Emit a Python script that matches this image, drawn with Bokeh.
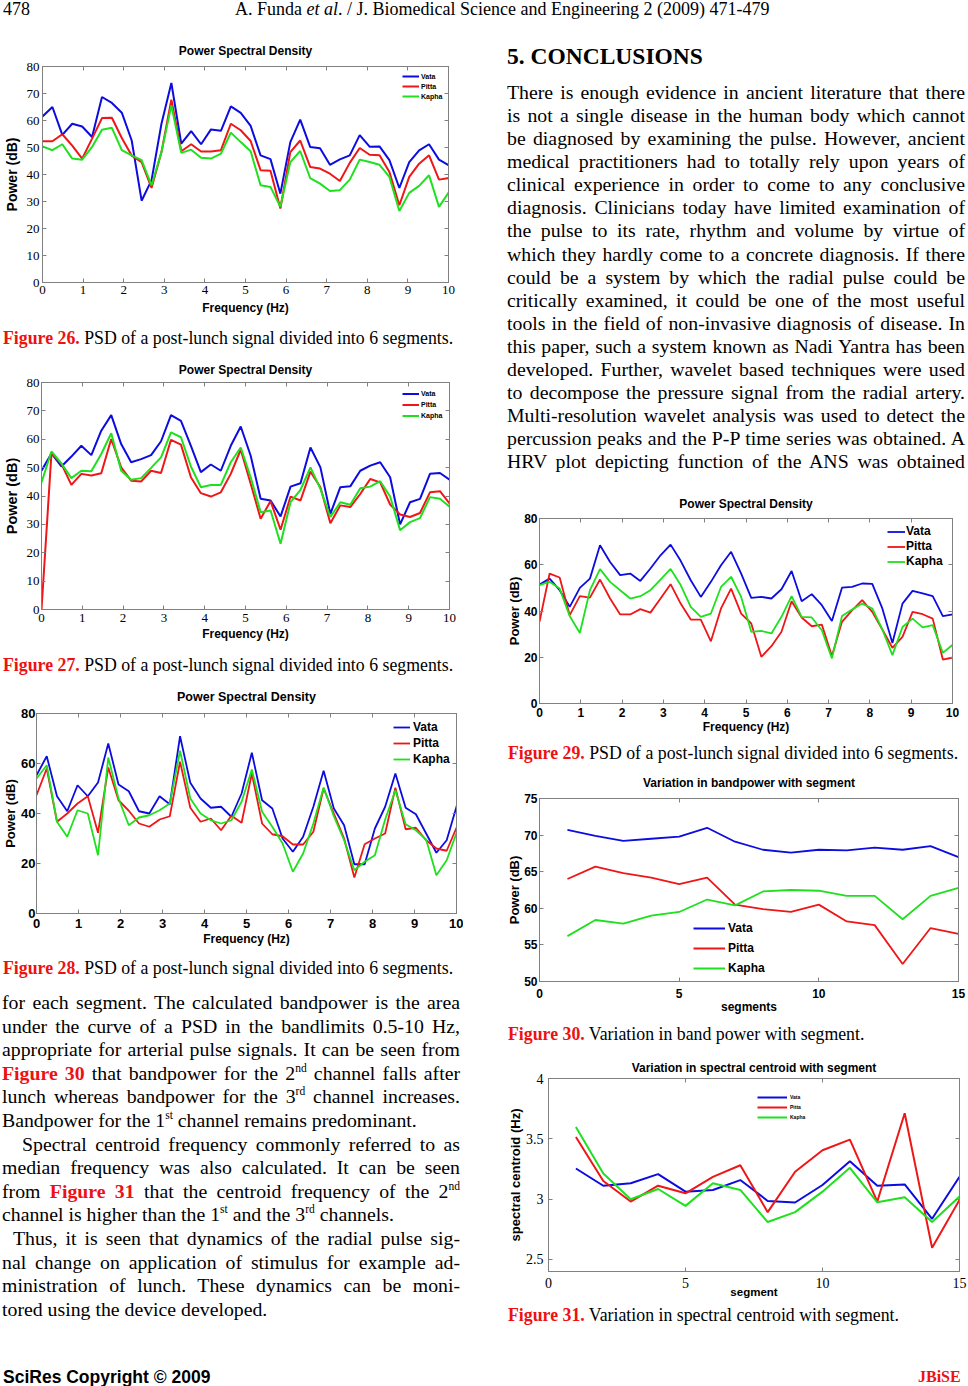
from bokeh.plotting import figure
from bokeh.models import (Div, Spacer, Column, Row, FixedTicker, LinearAxis, Legend,
                          LegendItem, Range1d, CustomJSTickFormatter)
from bokeh.embed import file_html
from bokeh.resources import INLINE

# ---------------- data ----------------
freq = [0.000, 0.244, 0.488, 0.732, 0.977, 1.221, 1.465, 1.709, 1.953, 2.197, 2.441,
        2.686, 2.930, 3.174, 3.418, 3.662, 3.906, 4.150, 4.395, 4.639, 4.883, 5.127,
        5.371, 5.615, 5.859, 6.104, 6.348, 6.592, 6.836, 7.080, 7.324, 7.568, 7.813,
        8.057, 8.301, 8.545, 8.789, 9.033, 9.277, 9.521, 9.766, 10.010]

f26_vata = [61.5, 65.0, 54.7, 58.8, 57.8, 53.9, 68.7, 66.5, 62.9, 52.6, 30.3, 37.9, 58.8, 73.9,
            51.4, 56.1, 51.2, 56.7, 56.2, 65.2, 62.8, 58.0, 47.1, 45.7, 32.9, 52.0, 60.3, 50.2,
            49.7, 43.6, 45.6, 47.1, 54.6, 50.3, 50.4, 45.3, 35.0, 44.6, 48.9, 51.2, 45.5, 43.4]
f26_pitta = [52.3, 52.3, 54.9, 50.7, 45.9, 53.3, 60.9, 61.0, 53.5, 47.0, 44.6, 35.0, 48.3, 67.7,
             48.6, 51.2, 48.5, 48.5, 49.0, 58.8, 56.4, 52.4, 41.6, 41.4, 27.4, 48.3, 52.6, 42.8,
             42.2, 40.3, 37.6, 44.3, 49.8, 47.3, 47.1, 40.9, 28.6, 39.1, 44.0, 47.1, 38.1, 38.7]
f26_kapha = [50.4, 49.0, 51.2, 45.9, 45.5, 50.2, 56.6, 57.3, 49.0, 47.1, 45.3, 36.0, 48.3, 65.6,
             48.0, 49.2, 46.2, 45.9, 47.7, 55.5, 52.0, 48.6, 36.0, 35.4, 28.0, 44.6, 48.7, 38.7,
             36.6, 33.9, 34.2, 38.1, 45.5, 44.6, 43.6, 39.1, 26.5, 33.2, 35.8, 39.7, 28.0, 33.5]

f27_vata = [48.9, 55.0, 50.4, 53.9, 57.7, 54.4, 63.0, 68.5, 58.3, 51.9, 53.0, 54.4, 59.3, 68.5,
            66.5, 57.7, 48.4, 51.1, 48.9, 57.7, 64.5, 54.2, 39.0, 38.4, 32.8, 43.3, 44.5, 57.1,
            50.1, 33.7, 43.1, 43.4, 48.9, 50.7, 51.9, 46.6, 30.0, 37.8, 39.0, 47.8, 48.1, 45.7]
f27_pitta = [0.0, 55.0, 51.3, 43.9, 47.8, 47.2, 48.0, 60.1, 50.1, 45.4, 45.1, 48.9, 48.1, 59.8,
             58.1, 46.6, 41.0, 39.8, 41.3, 47.8, 56.3, 44.3, 32.0, 38.2, 28.1, 39.8, 38.4, 48.6,
             43.1, 30.4, 36.7, 36.1, 40.7, 46.0, 44.8, 37.0, 33.5, 32.6, 34.0, 41.3, 41.7, 37.2]
f27_kapha = [44.8, 55.7, 51.5, 46.3, 48.9, 48.7, 54.8, 62.1, 48.9, 45.7, 46.3, 49.9, 53.6, 62.4,
             60.7, 50.4, 43.1, 43.9, 43.9, 51.9, 57.1, 46.6, 34.3, 34.9, 23.2, 37.8, 42.2, 50.1,
             42.5, 32.6, 37.8, 36.9, 42.7, 43.3, 45.2, 39.8, 27.9, 30.8, 32.2, 39.6, 39.0, 36.1]

f28_vata = [55.3, 62.9, 46.9, 40.9, 51.3, 46.9, 52.4, 68.0, 51.6, 48.9, 40.9, 40.0, 46.9, 43.7,
            70.9, 52.3, 46.0, 42.3, 42.7, 38.7, 48.0, 64.3, 45.3, 42.0, 30.0, 24.7, 30.7, 42.7,
            57.1, 42.0, 35.3, 19.7, 19.7, 34.0, 42.7, 56.0, 42.3, 39.7, 32.0, 24.3, 29.3, 43.3]
f28_pitta = [47.3, 58.0, 36.7, 40.0, 44.0, 46.9, 32.3, 58.4, 45.3, 41.1, 36.0, 34.7, 37.6, 38.9,
             60.7, 42.3, 36.7, 38.0, 33.3, 39.1, 36.3, 56.0, 36.0, 31.7, 30.9, 27.6, 27.6, 32.7,
             50.0, 40.0, 30.0, 14.4, 27.7, 30.0, 32.0, 50.3, 33.7, 34.3, 29.3, 26.0, 25.1, 34.7]
f28_kapha = [54.0, 59.3, 36.7, 30.7, 41.3, 40.0, 23.3, 62.4, 46.0, 35.3, 38.4, 39.3, 41.3, 44.0,
             65.1, 46.0, 40.0, 37.3, 36.0, 37.3, 44.7, 57.6, 40.7, 34.7, 28.0, 16.7, 24.0, 36.0,
             50.4, 38.9, 29.3, 17.3, 20.7, 23.3, 37.6, 49.3, 35.7, 33.3, 29.6, 15.3, 21.3, 32.7]

f29_vata = [51.4, 54.0, 49.0, 41.8, 50.0, 54.0, 68.4, 61.2, 55.5, 56.2, 53.0, 58.4, 64.1, 68.7,
            61.7, 53.3, 46.1, 52.6, 59.8, 65.6, 56.2, 45.7, 46.1, 45.4, 49.4, 57.3, 44.2, 47.3,
            42.5, 35.7, 50.1, 50.4, 51.9, 51.7, 41.1, 26.2, 43.2, 48.7, 47.6, 46.4, 37.8, 38.5]
f29_pitta = [35.3, 56.2, 54.5, 38.2, 46.4, 45.8, 53.6, 45.4, 38.5, 38.5, 40.8, 39.3, 45.4, 51.6,
             43.2, 36.3, 36.3, 26.9, 41.1, 49.7, 38.9, 34.6, 20.2, 24.8, 31.0, 44.2, 37.2, 33.4,
             34.1, 20.5, 35.3, 40.3, 44.7, 39.6, 32.0, 24.1, 28.8, 39.6, 38.6, 36.7, 19.0, 19.9]
f29_kapha = [51.2, 52.6, 49.7, 37.8, 30.5, 49.0, 58.1, 52.6, 49.0, 45.4, 46.4, 49.0, 53.6, 58.2,
             51.2, 41.8, 37.5, 38.9, 50.4, 54.8, 46.1, 31.0, 31.4, 30.3, 37.5, 46.4, 37.5, 37.2,
             31.7, 19.5, 37.8, 40.6, 43.2, 41.1, 32.0, 20.9, 33.1, 36.7, 32.9, 33.9, 21.9, 25.5]

segments = [1, 2, 3, 4, 5, 6, 7, 8, 9, 10, 11, 12, 13, 14, 15]
f30_vata = [70.7, 69.9, 69.2, 69.5, 69.8, 71.0, 69.1, 68.0, 67.6, 68.0, 67.9, 68.3, 68.0, 68.5, 67.0]
f30_pitta = [64.0, 65.7, 64.8, 64.2, 63.3, 64.2, 60.5, 59.9, 59.5, 60.5, 58.2, 57.7, 52.4, 57.3, 56.5]
f30_kapha = [56.2, 58.4, 57.9, 59.0, 59.5, 61.2, 60.4, 62.3, 62.5, 62.4, 61.7, 61.7, 58.5, 61.7, 62.8]

f31_vata = [3.254, 3.111, 3.131, 3.207, 3.062, 3.076, 3.158, 2.985, 2.972, 3.117, 3.314, 3.111,
            3.122, 2.837, 3.185]
f31_pitta = [3.515, 3.150, 2.980, 3.111, 3.048, 3.185, 3.281, 2.892, 3.227, 3.405, 3.493, 2.980,
             3.712, 2.596, 2.993]
f31_kapha = [3.597, 3.213, 2.999, 3.084, 2.944, 3.131, 3.076, 2.810, 2.892, 3.062, 3.260, 2.974,
             3.015, 2.810, 3.021]

series_names = ["Vata", "Pitta", "Kapha"]
psd_xticks = [0, 1, 2, 3, 4, 5, 6, 7, 8, 9, 10]
psd_yticks_10 = [0, 10, 20, 30, 40, 50, 60, 70, 80]
psd_yticks_20 = [0, 20, 40, 60, 80]
seg_xticks = [0, 5, 10, 15]
bp_yticks = [50, 55, 60, 65, 70, 75]
sc_yticks = [2.5, 3, 3.5, 4]

# ---------------- styles ----------------
SERIF = "Liberation Serif"
SANS = "Liberation Sans"
AXC = "#808080"
BLUE, RED, GREEN = "#0c0ce0", "#ee1616", "#1ee01e"
TXT_RED = "#ee1111"


def chart(W, H, borders, xr, yr, xt, yt, title, title_size, title_gap,
          xlabel, ylabel, tick_font, tick_size, tick_style, xl_size, yl_size,
          xso, xlso, yso, ylso, xs, ys_list, lw, leg, y_formatter=None):
    L, R, T, B = borders
    p = figure(width=W, height=H, output_backend="svg", toolbar_location=None,
               x_range=Range1d(*xr), y_range=Range1d(*yr), title=None,
               min_border_left=L, min_border_right=R, min_border_top=T, min_border_bottom=B,
               background_fill_color="white", border_fill_color="white")
    p.frame_align = False
    p.outline_line_color = AXC
    p.grid.visible = False

    xa = p.below[0]
    ya = p.left[0]
    for ax, ticks in ((xa, xt), (ya, yt)):
        ax.ticker = FixedTicker(ticks=ticks, minor_ticks=[])
        ax.major_tick_in = 4
        ax.major_tick_out = 0
        ax.minor_tick_in = 0
        ax.minor_tick_out = 0
        ax.axis_line_color = AXC
        ax.major_tick_line_color = AXC
        ax.major_label_text_font = tick_font
        ax.major_label_text_font_size = tick_size
        ax.major_label_text_font_style = tick_style
        ax.major_label_text_color = "black"
        ax.axis_label_text_font_style = "bold"
        ax.axis_label_text_color = "black"
        ax.axis_label_text_font = SANS
    xa.axis_label = xlabel
    xa.axis_label_text_font_size = xl_size
    xa.major_label_standoff = xso
    xa.axis_label_standoff = xlso
    ya.axis_label = ylabel
    ya.axis_label_text_font_size = yl_size
    ya.major_label_standoff = yso
    ya.axis_label_standoff = ylso
    if y_formatter is not None:
        ya.formatter = y_formatter

    # top axis: inward ticks of the box, and the chart title as its label
    top = LinearAxis(ticker=FixedTicker(ticks=xt, minor_ticks=[]),
                     formatter=CustomJSTickFormatter(code="return ''"),
                     major_tick_in=4, major_tick_out=0, minor_tick_in=0, minor_tick_out=0,
                     major_label_standoff=0, major_label_text_font_size="0px",
                     axis_line_color=AXC, major_tick_line_color=AXC,
                     axis_label=title, axis_label_standoff=title_gap,
                     axis_label_text_font=SANS, axis_label_text_font_size=title_size,
                     axis_label_text_font_style="bold", axis_label_text_color="black")
    p.add_layout(top, "above")
    right = LinearAxis(ticker=FixedTicker(ticks=yt, minor_ticks=[]),
                       formatter=CustomJSTickFormatter(code="return ''"),
                       major_tick_in=4, major_tick_out=0, minor_tick_in=0, minor_tick_out=0,
                       major_label_standoff=0, major_label_text_font_size="0px",
                       axis_line_color=AXC, major_tick_line_color=AXC)
    p.add_layout(right, "right")

    renderers = []
    for ys, color in zip(ys_list, (BLUE, RED, GREEN)):
        renderers.append(p.line(xs, ys, line_color=color, line_width=lw))

    vx, vy, gw, gh, lsize, lstand = leg
    legend = Legend(items=[LegendItem(label=n, renderers=[r]) for n, r in zip(series_names, renderers)],
                    location=(vx, vy), orientation="vertical", border_line_color=None,
                    background_fill_alpha=0, padding=0, margin=0, spacing=0,
                    glyph_width=gw, glyph_height=gh, label_height=gh, label_standoff=lstand,
                    label_text_font=SANS, label_text_font_size=lsize,
                    label_text_font_style="bold", label_text_color="black")
    p.add_layout(legend)
    return p


fig26 = chart(463, 278, (40, 15, 26, 36), (0, 10), (0, 80), psd_xticks, psd_yticks_10,
              "Power Spectral Density", "12px", 9, "Frequency (Hz)", "Power (dB)",
              SERIF, "13px", "normal", "12px", "14px", 3, 4, 3, 4,
              freq, [f26_vata, f26_pitta, f26_kapha], 2,
              (360, 181, 17, 10, "7px", 2))

fig27 = chart(463, 287, (39, 14, 24, 36), (0, 10), (0, 80), psd_xticks, psd_yticks_10,
              "Power Spectral Density", "12px", 6, "Frequency (Hz)", "Power (dB)",
              SERIF, "13px", "normal", "12px", "14.5px", 4, 2, 2, 4,
              freq, [f27_vata, f27_pitta, f27_kapha], 2,
              (361, 188, 17, 11, "7px", 2))

fig28 = chart(463, 265, (33, 7, 28, 37), (0, 10), (0, 80), psd_xticks, psd_yticks_20,
              "Power Spectral Density", "12.5px", 10, "Frequency (Hz)", "Power (dB)",
              SANS, "13px", "bold", "12px", "13px", 5, 1, 1, 0,
              freq, [f28_vata, f28_pitta, f28_kapha], 1.8,
              (357, 146, 17, 16, "12px", 3))

fig29 = chart(478, 248, (49, 16, 28, 35), (0, 10), (0, 80), psd_xticks, psd_yticks_20,
              "Power Spectral Density", "12px", 8, "Frequency (Hz)", "Power (dB)",
              SANS, "12px", "bold", "12px", "13px", 4, 0, 2, -1,
              freq, [f29_vata, f29_pitta, f29_kapha], 1.8,
              (348, 134.5, 18, 15, "12px", 1))

fig30 = chart(478, 248, (49, 10, 30, 34), (0, 15), (50, 75), seg_xticks, bp_yticks,
              "Variation in bandpower with segment", "12px", 9, "segments", "Power (dB)",
              SANS, "12px", "bold", "12px", "13px", 7, -1, 2, -1,
              segments, [f30_vata, f30_pitta, f30_kapha], 1.8,
              (154, 3, 32, 20, "12px", 3))

fig31 = chart(478, 248, (58, 9, 26, 28), (0, 15), (2.4, 4), seg_xticks, sc_yticks,
              "Variation in spectral centroid with segment", "12px", 4, "segment",
              "spectral centroid (Hz)",
              SERIF, "14px", "normal", "11.5px", "13px", 6, -5, 5, 0,
              segments, [f31_vata, f31_pitta, f31_kapha], 2,
              (209, 149, 30, 10, "5px", 3),
              y_formatter=CustomJSTickFormatter(code="return String(tick)"))

# ---------------- text blocks ----------------
SUP = '<sup style="font-size:11.5px;line-height:0;vertical-align:8px">{}</sup>'
FIG = '<b style="color:%s">{}</b>' % TXT_RED


def mkdiv(html, w, h):
    return Div(text=html, width=w, height=h, margin=0)


def caption(num, rest, w, h, pad):
    html = ('<div style="box-sizing:border-box;width:%dpx;height:%dpx;line-height:%dpx;'
            'padding-left:%dpx;font-family:\'Liberation Serif\';font-size:17.8px;color:#000;'
            'white-space:nowrap"><b style="color:%s">Figure %s.</b> %s</div>'
            % (w, h, h, pad, TXT_RED, num, rest))
    return mkdiv(html, w, h)


def line_div(html, width, lh, justify=True, indent=0):
    al = "justify" if justify else "left"
    return ('<div style="box-sizing:border-box;width:%dpx;height:%spx;line-height:%spx;'
            'padding-left:%dpx;text-align:%s;text-align-last:%s">%s</div>'
            % (width, lh, lh, indent, al, al, html))


header_html = (
    '<div style="position:relative;width:968px;height:40px;font-family:\'Liberation Serif\';'
    'font-size:18px;line-height:18px;color:#000;white-space:nowrap">'
    '<span style="position:absolute;left:3px;top:0px">478</span>'
    '<span style="position:absolute;left:235px;top:0px">A. Funda <i>et al</i>. / '
    'J. Biomedical Science and Engineering 2 (2009) 471-479</span></div>')
header = mkdiv(header_html, 968, 40)

left_lines = [
    ("for each segment. The calculated bandpower is the area", True, 0),
    ("under the curve of a PSD in the bandlimits 0.5-10 Hz,", True, 0),
    ("appropriate for arterial pulse signals. It can be seen from", True, 0),
    (FIG.format("Figure 30") + " that bandpower for the 2" + SUP.format("nd") +
     " channel falls after", True, 0),
    ("lunch whereas bandpower for the 3" + SUP.format("rd") + " channel increases.", True, 0),
    ("Bandpower for the 1" + SUP.format("st") + " channel remains predominant.", False, 0),
    ("Spectral centroid frequency commonly referred to as", True, 20),
    ("median frequency was also calculated. It can be seen", True, 0),
    ("from " + FIG.format("Figure 31") + " that the centroid frequency of the 2" +
     SUP.format("nd"), True, 0),
    ("channel is higher than the 1" + SUP.format("st") + " and the 3" + SUP.format("rd") +
     " channels.", False, 0),
    ("Thus, it is seen that dynamics of the radial pulse sig-", True, 11),
    ("nal change on application of stimulus for example ad-", True, 0),
    ("ministration of lunch. These dynamics can be moni-", True, 0),
    ("tored using the device developed.", False, 0),
]
left_html = ('<div style="padding-top:5px;padding-left:2px;font-family:\'Liberation Serif\';'
             'font-size:19.8px;color:#000">'
             + "".join(line_div(t, 458, 23.6, j, ind) for t, j, ind in left_lines) + '</div>')
left_text = mkdiv(left_html, 463, 372)

right_lines = [
    "There is enough evidence in ancient literature that there",
    "is not a single disease in the human body which cannot",
    "be diagnosed by examining the pulse. However, ancient",
    "medical practitioners had to totally rely upon years of",
    "clinical experience in order to come to any conclusive",
    "diagnosis. Clinicians today have limited examination of",
    "the pulse to its rate, rhythm and volume by virtue of",
    "which they hardly come to a concrete diagnosis. If there",
    "could be a system by which the radial pulse could be",
    "critically examined, it could be one of the most useful",
    "tools in the field of non-invasive diagnosis of disease. In",
    "this paper, such a system known as Nadi Yantra has been",
    "developed. Further, wavelet based techniques were used",
    "to decompose the pressure signal from the radial artery.",
    "Multi-resolution wavelet analysis was used to detect the",
    "percussion peaks and the P-P time series was obtained. A",
    "HRV plot depicting function of the ANS was obtained",
]
right_html = ('<div style="padding-top:2px;padding-left:17px;font-family:\'Liberation Serif\';'
              'color:#000">'
              '<div style="height:28px;line-height:28px;font-size:23.5px;font-weight:bold;'
              'white-space:nowrap">5. CONCLUSIONS</div>'
              '<div style="padding-top:11px;font-size:19.8px">'
              + "".join(line_div(t, 458, 23.08, True, 0) for t in right_lines) +
              '</div></div>')
right_text = mkdiv(right_html, 478, 450)

cap26 = caption("26", "PSD of a post-lunch signal divided into 6 segments.", 463, 40, 3)
cap27 = caption("27", "PSD of a post-lunch signal divided into 6 segments.", 463, 40, 3)
cap28 = caption("28", "PSD of a post-lunch signal divided into 6 segments.", 463, 36, 3)
cap29 = caption("29", "PSD of a post-lunch signal divided into 6 segments.", 478, 30, 18)
cap30 = caption("30", "Variation in band power with segment.", 478, 36, 18)
cap31 = caption("31", "Variation in spectral centroid with segment.", 478, 30, 18)

footer_html = (
    '<div style="position:relative;width:968px;height:28px;white-space:nowrap">'
    '<span style="position:absolute;left:3px;top:9px;line-height:20px;font-family:\'Liberation Sans\';'
    'font-weight:bold;font-size:17.5px;color:#000">SciRes Copyright \u00a9 2009</span>'
    '<span style="position:absolute;left:918px;top:9px;line-height:20px;font-family:\'Liberation Serif\';'
    'font-weight:bold;font-size:16px;color:%s">JBiSE</span></div>' % TXT_RED)
footer = mkdiv(footer_html, 968, 28)

left_col = Column(children=[fig26, cap26, fig27, cap27, fig28, cap28, left_text], spacing=0)
right_col = Column(children=[right_text, fig29, cap29, fig30, cap30, fig31, cap31,
                             Spacer(width=478, height=28)], spacing=0)
middle = Row(children=[left_col, Spacer(width=27, height=10), right_col], spacing=0)
root = Column(children=[header, middle, footer], spacing=0)

open("out.html", "w").write(file_html(root, INLINE, "PSD"))
